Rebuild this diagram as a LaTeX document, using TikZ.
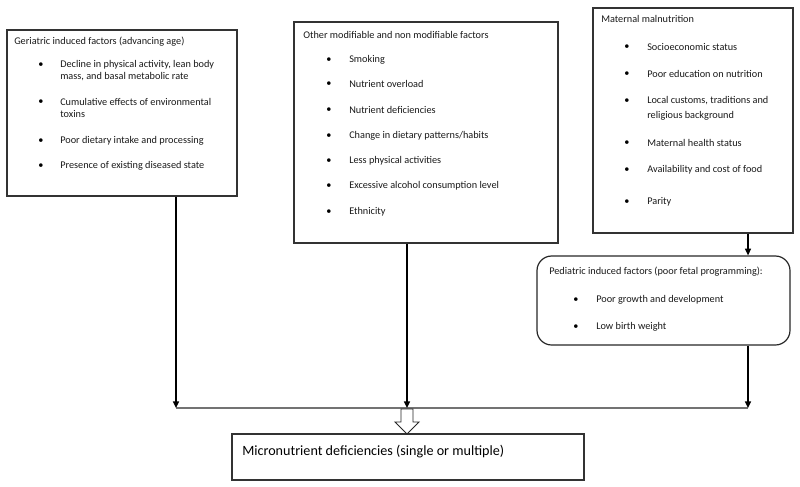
\documentclass[tikz,border=0pt]{standalone}
\usepackage{fontspec}
\setmainfont{Carlito}
\usetikzlibrary{fit,arrows.meta}
\begin{document}
\begin{tikzpicture}[x=0.75pt,y=-0.75pt,
  box/.style={draw=black!80,line width=0.8pt,inner sep=0pt},
  rbox/.style={draw=black!85,line width=0.9pt,inner sep=0pt,rounded corners=11pt},
  txt/.style={anchor=west,inner sep=0pt,font=\fontsize{7.7}{9}\selectfont,text=black!90},
  bul/.style={anchor=center,inner sep=0pt,font=\fontsize{7.7}{9}\selectfont},
  big/.style={anchor=west,inner sep=0pt,font=\fontsize{10.6}{12}\selectfont},
  arr/.style={line width=1.1pt,-{Triangle[length=5pt,width=4.5pt]}},
  hline/.style={draw=black!55,line width=1.2pt}]
\useasboundingbox (0,0) rectangle (800,486);
% box 1
\coordinate (a1) at (7,30); \coordinate (a2) at (237,196);
\node[box,fit=(a1)(a2)] (ger) {};
\node[txt] (g0) at (14,42) {Geriatric induced factors (advancing age)};
\foreach \y/\t [count=\i] in {65/{Decline in physical activity, lean body},102/{Cumulative effects of environmental},141/{Poor dietary intake and processing},166/{Presence of existing diseased state}}
  {\node[bul] (gb\i) at (41,\y) {•}; \node[txt] (gt\i) at (60,\y) {\t};}
\node[txt] (gc1) at (60,77) {mass, and basal metabolic rate};
\node[txt] (gc2) at (60,114) {toxins};
% box 2
\coordinate (b1) at (294,22); \coordinate (b2) at (558,243);
\node[box,fit=(b1)(b2)] (oth) {};
\node[txt] (o0) at (303,35) {Other modifiable and non modifiable factors};
\foreach \y/\t [count=\i] in {60/Smoking,84/Nutrient overload,110/Nutrient deficiencies,136/{Change in dietary patterns/habits},161/Less physical activities,186/Excessive alcohol consumption level,212/Ethnicity}
  {\node[bul] (ob\i) at (329,\y) {•}; \node[txt] (ot\i) at (349,\y) {\t};}
% box 3
\coordinate (c1) at (593,8); \coordinate (c2) at (793,233);
\node[box,fit=(c1)(c2)] (mat) {};
\node[txt] (m0) at (601,19) {Maternal malnutrition};
\foreach \y/\t [count=\i] in {47/Socioeconomic status,74/Poor education on nutrition,101/{Local customs, traditions and},143/Maternal health status,170/Availability and cost of food,202/Parity}
  {\node[bul] (mb\i) at (627,\y) {•}; \node[txt] (mt\i) at (647,\y) {\t};}
\node[txt] (mc1) at (647,116) {religious background};
% box 4
\coordinate (d1) at (537,256); \coordinate (d2) at (790,345);
\node[rbox,fit=(d1)(d2)] (ped) {};
\node[txt] (p0) at (549,272) {Pediatric induced factors (poor fetal programming):};
\node[bul] (pb1) at (576,300) {•}; \node[txt] (pt1) at (596,300) {Poor growth and development};
\node[bul] (pb2) at (576,327) {•}; \node[txt] (pt2) at (596,327) {Low birth weight};
% bottom box
\coordinate (e1) at (232,434); \coordinate (e2) at (584,480);
\node[box,fit=(e1)(e2)] (mic) {};
\node[big] (mt) at (242,452) {Micronutrient deficiencies (single or multiple)};
% connectors
\coordinate (hl) at (176,408); \coordinate (hr) at (748,408);
\draw[hline] (hl) -- (hr);
\draw[arr] (ger.south -| hl) -- (hl);
\coordinate (hm) at (407,408);
\draw[arr] (oth.south -| hm) -- (hm);
\draw[arr] (mat.south -| hr) -- (ped.north -| hr);
\draw[arr] (ped.south -| hr) -- (hr);
% hollow arrow
\draw[black!85,line width=0.7pt,fill=white] (401,409) -- (413,409) -- (413,422) -- (419,422) -- (407,434) -- (395,422) -- (401,422) -- cycle;
\end{tikzpicture}
\end{document}
